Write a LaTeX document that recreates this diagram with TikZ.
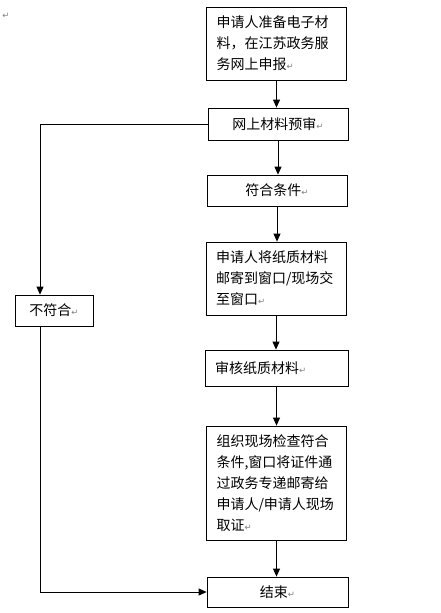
\documentclass[tikz,border=0pt]{standalone}
\usepackage{fontspec}
\setmainfont{Noto Sans CJK SC}
\newfontfamily\symfont{DejaVu Sans}
\usetikzlibrary{arrows.meta}
\newcommand\pmark{{\symfont\fontsize{8.5}{8.5}\selectfont\color{gray}↵}}

\begin{document}
\begin{tikzpicture}[
  x=1pt, y=-1pt,
  every node/.style={font=\fontsize{14}{21}\selectfont},
  box/.style={draw, line width=0.8pt, inner sep=0pt},
  textbox/.style={box, inner xsep=10pt, text width=120pt, align=left},
  arr/.style={-{Triangle[length=8pt,width=7pt]}, line width=0.8pt}]
\useasboundingbox (0,0) rectangle (441,613);

\node (tl) at (6,16) {\pmark};
\node[textbox, minimum height=73pt] (b1) at (276.5,43.5)
  {申请人准备电子材\\料，在江苏政务服\\务网上申报\pmark};
\node[box, minimum width=140pt, minimum height=32pt] (b2) at (278,124) {网上材料预审\pmark};
\node[box, minimum width=140pt, minimum height=31pt] (b3) at (277,190.5) {符合条件\pmark};
\node[textbox, minimum height=73pt] (b4) at (276,278.5)
  {申请人将纸质材料\\邮寄到窗口/现场交\\至窗口\pmark};
\node[textbox, text width=123pt, minimum height=36pt] (b5) at (276.5,368) {审核纸质材料\pmark};
\node[textbox, minimum height=114pt] (b6) at (276.5,483)
  {组织现场检查符合\\条件,窗口将证件通\\过政务专递邮寄给\\申请人/申请人现场\\取证\pmark};
\node[box, minimum width=141pt, minimum height=30pt] (b7) at (277.5,592) {结束\pmark};
\node[box, minimum width=78pt, minimum height=31pt] (no) at (54,310.5) {不符合\pmark};

\coordinate (l) at (40,0);

% main line
\draw[arr] (b1.south) -- (b1.south |- b2.north);
\draw[arr] (b2.south) -- (b2.south |- b3.north);
\draw[arr] (b3.south) -- (b3.south |- b4.north);
\draw[arr] (b4.south) -- (b4.south |- b5.north);
\draw[arr] (b5.south) -- (b5.south |- b6.north);
\draw[arr] (b6.south) -- (b6.south |- b7.north);

% rejected branch
\draw[arr] (b2.west) -| (l |- no.north);
\draw[arr] (no.south -| l) |- (b7.west);
\end{tikzpicture}
\end{document}
